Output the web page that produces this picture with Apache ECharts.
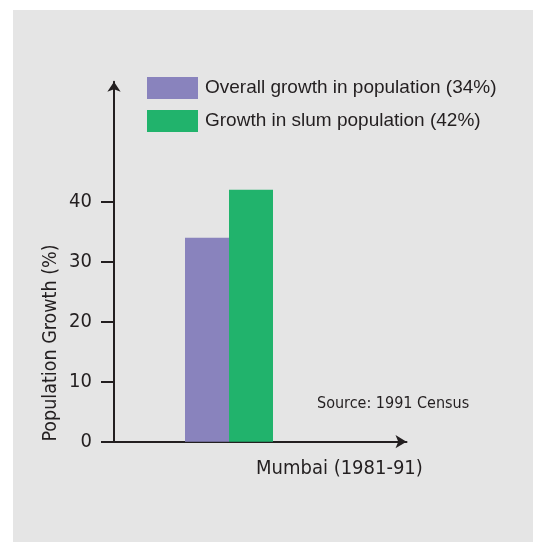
<!DOCTYPE html>
<html>
<head>
<meta charset="utf-8">
<script src="https://cdn.jsdelivr.net/npm/echarts@6/dist/echarts.min.js"></script>
<style>
  html, body { margin: 0; padding: 0; background: #ffffff; }
  #chart { width: 533px; height: 542px; }
</style>
</head>
<body>
<div id="chart"></div>
<script>
// Mumbai population growth, 1981-91
const categories = ['Mumbai (1981-91)'];
const seriesNames = ['Overall growth in population (34%)', 'Growth in slum population (42%)'];
const overallGrowth = [34];
const slumGrowth = [42];
const yTicks = [0, 10, 20, 30, 40];
const sourceNote = 'Source: 1991 Census';
const yTitle = 'Population Growth (%)';

const ink = '#231f20';
const narrow = '"DejaVu Sans Condensed", "Liberation Sans Narrow", sans-serif';
const regular = '"Liberation Sans", Arial, sans-serif';

const chart = echarts.init(document.getElementById('chart'), null, { renderer: 'canvas' });

const gridTop = 81.7;
const gridHeight = 360;

chart.setOption({
  backgroundColor: '#ffffff',
  animation: false,
  graphic: [
    {
      type: 'rect', z: -10, silent: true,
      shape: { x: 13, y: 10, width: 520, height: 532 },
      style: { fill: '#e5e5e5' }
    },
    {
      // vertical axis title, set low beside the labelled ticks
      type: 'text', x: 51, y: 343, rotation: Math.PI / 2,
      style: {
        text: yTitle, font: '19.5px ' + narrow, fill: ink,
        align: 'center', verticalAlign: 'middle'
      }
    },
    {
      type: 'text', left: 256, top: 459,
      style: { text: categories[0], font: '20px ' + narrow, fill: ink }
    },
    {
      type: 'text', left: 317, top: 396,
      style: { text: sourceNote, font: '16px ' + narrow, fill: ink }
    }
  ],
  legend: {
    orient: 'vertical',
    left: 147, top: 77, padding: 0,
    itemWidth: 51, itemHeight: 22, itemGap: 11,
    icon: 'rect',
    selectedMode: false,
    textStyle: { fontFamily: regular, fontSize: 19, color: ink, padding: [0, 0, 0, 2] },
    data: seriesNames
  },
  grid: [
    // band for the bars
    { left: 114, top: gridTop, width: 230, height: gridHeight },
    // axis frame with arrows
    { left: 114, top: gridTop, width: 292.5, height: gridHeight }
  ],
  xAxis: [
    {
      type: 'category', gridIndex: 0, data: categories,
      axisLine: { show: false }, axisTick: { show: false }, axisLabel: { show: false }
    },
    {
      type: 'category', gridIndex: 1, data: categories,
      axisLine: {
        show: true, symbol: ['none', 'arrow'], symbolSize: [10, 11],
        lineStyle: { color: ink, width: 2 }
      },
      axisTick: { show: false }, axisLabel: { show: false }
    }
  ],
  yAxis: [
    {
      type: 'value', gridIndex: 0, min: 0, max: 60, interval: 10,
      axisLine: { show: false }, axisTick: { show: false },
      axisLabel: { show: false }, splitLine: { show: false }
    },
    {
      type: 'value', gridIndex: 1, min: 0, max: 60, interval: 10,
      axisLine: {
        show: true, symbol: ['none', 'arrow'], symbolSize: [10, 10],
        lineStyle: { color: ink, width: 2 }
      },
      axisTick: {
        show: true, length: 13, customValues: yTicks,
        lineStyle: { color: ink, width: 2 }
      },
      axisLabel: {
        show: true, margin: 22, customValues: yTicks,
        fontFamily: narrow, fontSize: 20, color: ink,
        padding: [6, 0, 0, 0]
      },
      splitLine: { show: false }
    }
  ],
  series: [
    {
      name: seriesNames[0], type: 'bar', xAxisIndex: 0, yAxisIndex: 0,
      data: overallGrowth, barWidth: 44, barGap: '0%',
      itemStyle: { color: '#8983bd' }
    },
    {
      name: seriesNames[1], type: 'bar', xAxisIndex: 0, yAxisIndex: 0,
      data: slumGrowth, barWidth: 44, barGap: '0%',
      itemStyle: { color: '#21b36c' }
    }
  ]
});
</script>
</body>
</html>
